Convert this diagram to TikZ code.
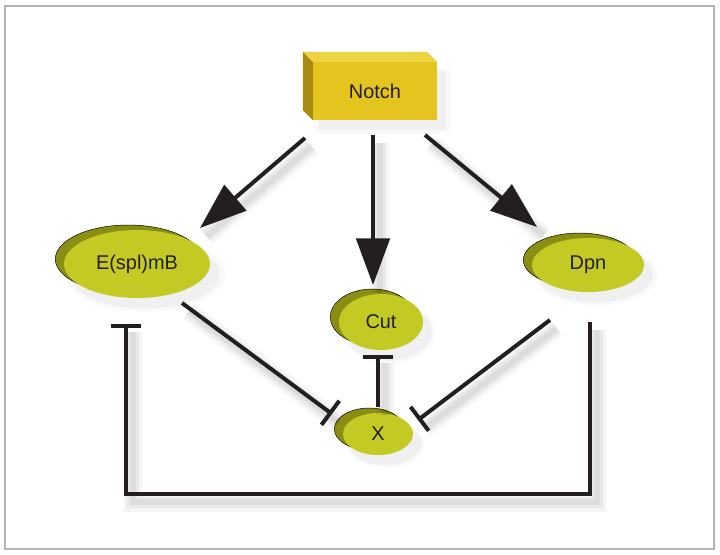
\documentclass[tikz,border=0pt]{standalone}
\usepackage{fontspec}
\setmainfont{Liberation Sans}
\usepackage{tikz}
\usetikzlibrary{arrows.meta, shapes.geometric, shadows, calc}
\definecolor{ink}{RGB}{35,31,32}
\definecolor{framegray}{RGB}{180,180,180}
\definecolor{notchfront}{RGB}{228,196,30}
\definecolor{notchtop}{RGB}{238,212,64}
\definecolor{notchside}{RGB}{166,140,18}
\definecolor{genefront}{RGB}{196,202,36}
\definecolor{geneback}{RGB}{138,143,20}
\tikzset{
	lshadow/.style={
		preaction={draw=black, arrows=-, opacity=.04, line width=.55cm,
			transform canvas={shift={(.2cm,-.25cm)}}},
		preaction={draw=black, arrows=-, opacity=.05, line width=.35cm,
			transform canvas={shift={(.2cm,-.25cm)}}},
		preaction={draw=black, arrows=-, opacity=.05, line width=.18cm,
			transform canvas={shift={(.2cm,-.25cm)}}}},
	softshadow/.style={
		drop shadow={opacity=.05, shadow xshift=.22cm, shadow yshift=-.28cm, shadow scale=1.1},
		drop shadow={opacity=.07, shadow xshift=.22cm, shadow yshift=-.28cm, shadow scale=1.03}},
	gene/.style={ellipse, fill=genefront, inner sep=0pt, text=ink, softshadow,
		copy shadow={fill=geneback, shadow xshift=-.26cm, shadow yshift=.15cm}},
	box/.style={rectangle, fill=notchfront, inner sep=0pt, text=ink,
		minimum width=3.72cm, minimum height=1.74cm, softshadow},
	act/.style={draw=ink, line width=.12cm, lshadow,
		-{Triangle[length=1.4cm, width=1cm]}},
	inh/.style={draw=ink, line width=.12cm, lshadow, -{Bar[width=.9cm]}}
}

\begin{document}
\begin{tikzpicture}[x=0.03cm, y=-0.03cm, font=\fontsize{17}{20}\selectfont]
	\useasboundingbox (0,0) rectangle (720,555);
	\draw[framegray, line width=2.5pt] (5,6) rectangle (714,549);

	% Notch block
	\node[box] (notch) at (375,91) {Notch};
	\fill[notchtop] (notch.north west) -- ++(-10,-10)
		-- ([shift={(-10,-10)}]notch.north east) -- (notch.north east) -- cycle;
	\fill[notchside] (notch.north west) -- ++(-10,-10)
		-- ([shift={(-10,-10)}]notch.south west) -- (notch.south west) -- cycle;

	% targets
	\node[gene, minimum width=4.38cm, minimum height=2.04cm] (esplmb) at (137,264) {E(spl)mB};
	\node[gene, minimum width=2.52cm, minimum height=1.68cm] (cut) at (381,322) {Cut};
	\node[gene, minimum width=3.36cm, minimum height=1.62cm] (dpn) at (588,265) {Dpn};
	\node[gene, minimum width=2.1cm, minimum height=1.26cm] (x) at (378,434) {X};

	% activation
	\draw[act] ([shift={(-70,47)}]notch.center) -- ([shift={(63,-36)}]esplmb.center);
	\draw[act] ([shift={(-2,44)}]notch.center) -- ([shift={(-8,-37)}]cut.center);
	\draw[act] ([shift={(50,44)}]notch.center) -- ([shift={(-51,-38)}]dpn.center);

	% repression
	\draw[inh] ([shift={(45,39)}]esplmb.center) -- ([shift={(-46,-20)}]x.center);
	\draw[inh] ([shift={(-38,55)}]dpn.center) -- ([shift={(40,-14)}]x.center);
	\draw[inh] ([shift={(0,-27)}]x.center) -- ([shift={(-3,33)}]cut.center);
	\draw[inh] ([shift={(2,57)}]dpn.center) -- ++(0,172) -| ([shift={(-11,60)}]esplmb.center);
\end{tikzpicture}
\end{document}
